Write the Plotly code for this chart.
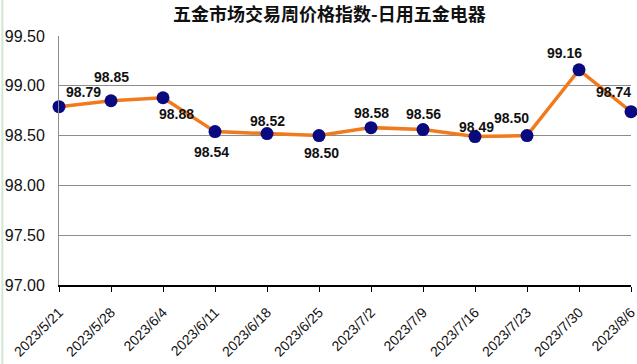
import plotly.graph_objects as go

dates = ["2023/5/21", "2023/5/28", "2023/6/4", "2023/6/11", "2023/6/18", "2023/6/25",
         "2023/7/2", "2023/7/9", "2023/7/16", "2023/7/23", "2023/7/30", "2023/8/6"]
values = [98.79, 98.85, 98.88, 98.54, 98.52, 98.50, 98.58, 98.56, 98.49, 98.50, 99.16, 98.74]
y_ticks = [97.0, 97.5, 98.0, 98.5, 99.0, 99.5]

# label offsets (style only)
label_dx = [24, 0, 13, -4, 0, 2, 0, 0, 1, -16, -15, -18]
label_dy = [15, 24, -16, -20, 13, -17, 15, 16, 10, 18, 17, 20]

x_idx = list(range(len(dates)))

fig = go.Figure()
fig.add_trace(go.Scatter(
    x=x_idx, y=values, mode="lines+markers",
    line=dict(color="#F07A1E", width=3.5),
    marker=dict(color="#0A0A80", size=13),
    cliponaxis=False, showlegend=False,
))

for i, v in enumerate(values):
    fig.add_annotation(x=x_idx[i], y=v, text=f"<b>{v:.2f}</b>", showarrow=False,
                       xshift=label_dx[i], yshift=label_dy[i],
                       font=dict(family="Liberation Sans, Arial", size=14, color="#111111"),
                       )

fig.update_layout(
    width=637, height=364,
    margin=dict(l=59, r=6, t=36, b=79),
    paper_bgcolor="white", plot_bgcolor="white",
    title=dict(text="<b>五金市场交易周价格指数-日用五金电器</b>", x=0.517, xanchor="center",
               y=0.961, yanchor="middle",
               font=dict(family="Noto Sans CJK SC", size=18, color="#111111")),
    xaxis=dict(
        range=[0, len(dates) - 1], tickmode="array", tickvals=x_idx, ticktext=dates,
        tickangle=-45, showgrid=False, showline=True, linecolor="#000000", linewidth=1.5,
        ticks="outside", ticklen=5, tickcolor="#000000", ticklabelstandoff=7,
        ticklabeloverflow="allow",
        tickfont=dict(family="Liberation Sans, Arial", size=14, color="#111111"),
        zeroline=False, automargin=False,
    ),
    yaxis=dict(
        range=[97.0, 99.5], tickmode="array", tickvals=y_ticks,
        ticktext=[f"{t:.2f}" for t in y_ticks],
        showgrid=True, gridcolor="#8C8C8C", gridwidth=1,
        showline=True, linecolor="#8C8C8C", linewidth=1,
        ticks="", ticklabelstandoff=10,
        tickfont=dict(family="Liberation Sans, Arial", size=16, color="#111111"),
        zeroline=False, automargin=False,
    ),
)
fig.add_shape(type="line", xref="paper", yref="paper", x0=-0.099, x1=-0.099, y0=-0.33, y1=1.15,
              line=dict(color="#CFE8D2", width=2))

fig.write_html("out.html", config={"displayModeBar": False},
               post_script="document.body.style.margin='0';document.body.style.overflow='hidden';")
